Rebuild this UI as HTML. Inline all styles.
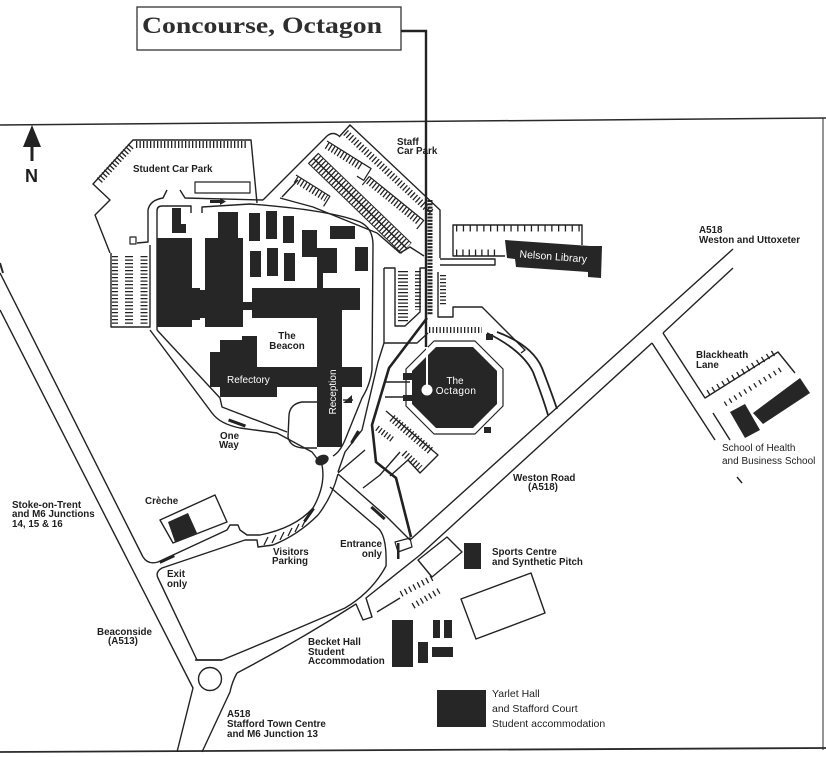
<!DOCTYPE html>
<html><head><meta charset="utf-8">
<style>
html,body{margin:0;padding:0;background:#fff;}
svg{display:block;}
text{font-family:"Liberation Sans",sans-serif;fill:#1e1e1e;}
.b{font-weight:bold;font-size:9.8px;}
.w{fill:#fff;font-size:10px;}
.t{stroke-dasharray:1.3 2.2;}
</style></head><body>
<svg width="826" height="757" viewBox="0 0 826 757" xmlns="http://www.w3.org/2000/svg">
<rect width="826" height="757" fill="#fff"/>

<!-- frame -->
<g fill="none" stroke="#2a2a2a">
 <path d="M0,125 L826,118" stroke-width="1.5"/>
 <path d="M823,118 L823,750" stroke-width="1"/>
 <path d="M0,752 L826,748" stroke-width="1.8"/>
 <path d="M0,263 L3,273" stroke-width="2"/>
</g>

<!-- title -->
<rect x="137" y="7" width="264" height="43" fill="#fff" stroke="#333" stroke-width="1.3"/>
<text x="142" y="33" style="font-family:'Liberation Serif',serif;font-weight:bold;font-size:23px;fill:#2e2e2e" textLength="240" lengthAdjust="spacingAndGlyphs">Concourse, Octagon</text>

<!-- north arrow -->
<polygon points="23,147 32,125 41,147" fill="#222"/>
<line x1="32" y1="146" x2="32" y2="161" stroke="#222" stroke-width="3"/>
<text x="25" y="182" style="font-weight:bold;font-size:18px">N</text>

<g fill="none" stroke="#222" stroke-width="1.4" stroke-linejoin="round">
 <!-- student car park -->
 <path d="M110,253 L95,215 L110,200 L93,184 L133,140 L251,140 L257,203"/>
 <line x1="136" y1="144.5" x2="248" y2="144.5" stroke-width="7" class="t"/>
 <line x1="131" y1="146" x2="98" y2="182" stroke-width="7" class="t"/>
 <rect x="195" y="182" width="55" height="11" stroke-width="1.2"/>
 <path d="M180,190 L185,198 L263,200"/>
 <path d="M167,190 L163,198 Q150,200 148,210 L148,242 L137,243"/>
 <rect x="130" y="237" width="6" height="7" stroke-width="1.2"/>
 <!-- west parking -->
 <path d="M111,253 V327 H150 V245"/>
 <line x1="115" y1="256" x2="115" y2="324" stroke-width="6" class="t"/>
 <line x1="129" y1="256" x2="129" y2="324" stroke-width="8" class="t"/>
 <line x1="144" y1="256" x2="144" y2="324" stroke-width="7" class="t"/>

 <!-- ring inner -->
 <path d="M157,330 L157,211 Q157,206 162,206 L191,206 L191,213"/>
 <path d="M202,213 L202,207 L250,204 Q330,210 360,222 Q373,228 373,245 L372,370 Q370,385 362,398 L345,440 Q340,452 333,456"/>
 <!-- ring outer top -->
 <path d="M280,198 L313,207 L377,233 L400,253 L410,247 L424,256"/>

 <!-- staff car park -->
 <path d="M263,200 L327,136 Q333,131 339,136"/>
 <path d="M339,137 L350,125 L440,210 L440,258"/>
 <g transform="translate(348,130) rotate(43)">
  <line x1="0" y1="3.5" x2="118" y2="3.5" stroke-width="7" class="t"/>
 </g>
 <g transform="translate(313,158) rotate(44)">
  <line x1="0" y1="0" x2="130" y2="0"/>
  <line x1="0" y1="0" x2="130" y2="0" stroke-width="13" class="t"/>
  <path d="M0,-7 L130,-7 M0,7 L130,7" stroke-width="1"/>
 </g>
 <g transform="translate(368,178) rotate(39)">
  <path d="M0,-2 H70 V9 M0,-2 V9" stroke-width="1.2"/>
  <line x1="2" y1="2" x2="68" y2="2" stroke-width="7" class="t"/>
 </g>
 <g transform="translate(327,141) rotate(32)">
  <path d="M0,0 H52 V14 H44" stroke-width="1.2"/>
  <line x1="2" y1="4" x2="44" y2="4" stroke-width="7" class="t"/>
 </g>
 <g transform="translate(296,175) rotate(32)">
  <path d="M0,0 H40 V12" stroke-width="1.2"/>
  <line x1="2" y1="4" x2="38" y2="4" stroke-width="7" class="t"/>
 </g>
 <path d="M282,197 L298,180"/>

 <!-- Nelson parking -->
 <path d="M505,256 L453,256 L453,225 L582,225 L582,245"/>
 <line x1="456" y1="228.5" x2="580" y2="228.5" stroke-width="6" class="t" style="stroke-dasharray:1.3 5.5"/>
 <line x1="456" y1="252.5" x2="500" y2="252.5" stroke-width="6" class="t" style="stroke-dasharray:1.3 5"/>
 <path d="M440,259 L495,259 L495,265 L440,265"/>

 <!-- H parking -->
 <path d="M384,268 H395 V326 H405 L420,312 V268 H425"/>
 <path d="M384,268 V343 H417 L428,333"/>
 <line x1="403" y1="271" x2="403" y2="323" stroke-width="10" class="t"/>
 <line x1="418" y1="271" x2="418" y2="310" stroke-width="6" class="t"/>
 <line x1="443" y1="275" x2="443" y2="305" stroke-width="6" class="t"/>
 <path d="M438,272 V317 H453 V307 H482 L488,313 L525,350 L521,353"/>
 <line x1="429" y1="330" x2="482" y2="330" stroke-width="6" class="t"/>
 <line x1="430" y1="200" x2="430" y2="315" stroke-width="5" style="stroke-dasharray:2 1.3"/>

 <!-- octagon right double road -->
 <path d="M487,333 Q522,350 533,372 Q543,398 548,415" stroke-width="1.8"/>
 <path d="M497,332 Q532,345 542,368 Q552,394 557,409" stroke-width="1.8"/>
 <!-- octagon outline -->
 <polygon points="434,341 475,341 503,369 503,406 475,434 434,434 406,406 406,369" stroke-width="1.2"/>
 <path d="M386,382 H410 M385,397 H410"/>

 <!-- thick footpath -->
 <path d="M427,318 L389,368 L372,425 L376,462 L396,478 L411,537" stroke-width="2.6"/>
 <path d="M384,343 L378,362 L362,430 L345,452 L338,472"/>

 <!-- SW octagon parking -->
 <line x1="392" y1="418" x2="432" y2="452" stroke-width="8" class="t"/>
 <line x1="377" y1="428" x2="393" y2="440" stroke-width="6" class="t"/>
 <line x1="404" y1="453" x2="420" y2="468" stroke-width="7" class="t"/>
 <path d="M386,411 L438,455 L420,473 L408,460 L390,476"/>
 <path d="M363,488 L380,475 L400,452"/>

 <!-- west diagonal roads -->
 <path d="M150,330 L212,413 Q220,424 240,428 L277,433 L312,452 L322,465"/>
 <path d="M157,330 L220,398 L222,407 L287,432"/>
 <path d="M317,402 L302,402 Q290,404 289,415 L288,437 Q290,447 303,448 L317,448"/>
 <path d="M343,400 H353"/>

 <!-- visitors road -->
 <path d="M322,465 Q326,485 313,508 Q295,528 260,535 L247,535 L240,530 L238,525 L230,525 L227,530 L158,562 Q148,565 143,557"/>
 <path d="M338,474 Q332,497 318,515 Q298,535 273,545 L258,547 L257,540 L245,540 L162,568 Q155,572 158,578 L197,660 L222,660"/>
 <path d="M268,537 L264,545 M276,535 L272,543 M284,532 L280,540 M292,528 L288,536 M299,524 L295,532 M306,519 L302,527" stroke-width="1.3"/>

 <!-- creche -->
 <polygon points="160,520 215,495 227,522 173,543"/>

 <!-- entrance roads -->
 <path d="M338,473 L365,450"/>
 <path d="M330,487 L379,529 Q387,538 386,566 Q372,592 345,608 Q290,632 222,660 L195,660"/>
 <path d="M338,474 L387,517 Q398,528 410,540"/>
 <path d="M395,542 L410,538 L412,547 L398,552 Z" stroke-width="1.2"/>

 <!-- Beaconside -->
 <path d="M0,310 L193,688 L177,752"/>
 <path d="M0,273 L143,557"/>
 <circle cx="210" cy="679" r="11.5"/>
 <!-- Weston road -->
 <path d="M410,540 L733,249"/>
 <path d="M237,673 Q300,640 356,604 L363,620 L372,617 L366,598 L420,555 L652,343"/>
 <path d="M663,333 L733,268"/>
 <path d="M237,673 Q232,682 230,692 L202,752"/>
 <!-- Blackheath -->
 <path d="M652,343 L715,440"/>
 <path d="M663,333 L705,398 L778,352 L795,373"/>
 <line x1="708" y1="393" x2="777" y2="351" stroke-width="6" class="t" style="stroke-dasharray:1.3 4.5"/>
 <line x1="725" y1="404" x2="783" y2="368" stroke-width="5" class="t" style="stroke-dasharray:1.3 4.5"/>
 <path d="M713,413 L730,440"/>
 <path d="M737,477 L742,483"/>

 <!-- sports -->
 <polygon points="418,560 447,537 462,552 432,577"/>
 <line x1="401" y1="594" x2="432" y2="578" stroke-width="6" class="t" style="stroke-dasharray:1.3 3.5"/>
 <line x1="413" y1="606" x2="442" y2="589" stroke-width="6" class="t" style="stroke-dasharray:1.3 3.5"/>
 <path d="M377,612 L400,598"/>
 <polygon points="461,599 531,573 545,613 476,639"/>
</g>

<!-- buildings -->
<g fill="#262626">
 <rect x="172" y="208" width="9" height="25"/>
 <rect x="172" y="224" width="14" height="9"/>
 <rect x="157" y="238" width="35" height="89"/>
 <rect x="192" y="288" width="8" height="32"/>
 <rect x="157" y="290" width="86" height="28"/>
 <rect x="205" y="238" width="38" height="89"/>
 <rect x="218" y="212" width="20" height="26"/>
 <rect x="249" y="213" width="11" height="28"/>
 <rect x="266" y="211" width="11" height="28"/>
 <rect x="283" y="216" width="11" height="27"/>
 <rect x="250" y="251" width="11" height="26"/>
 <rect x="267" y="248" width="11" height="28"/>
 <rect x="284" y="253" width="11" height="28"/>
 <rect x="302" y="230" width="15" height="27"/>
 <rect x="317" y="248" width="20" height="25"/>
 <rect x="317" y="255" width="6" height="35"/>
 <rect x="330" y="226" width="25" height="13"/>
 <rect x="355" y="247" width="13" height="24"/>
 <rect x="252" y="288" width="108" height="22"/>
 <rect x="252" y="310" width="65" height="8"/>
 <rect x="243" y="302" width="9" height="8"/>
 <rect x="317" y="310" width="25" height="137"/>
 <rect x="242" y="336" width="15" height="4"/>
 <rect x="220" y="340" width="37" height="27"/>
 <rect x="210" y="352" width="10" height="28"/>
 <rect x="210" y="367" width="152" height="20"/>
 <rect x="220" y="387" width="57" height="10"/>
 <polygon points="343,403 352,395 352,403"/>
 <ellipse cx="322" cy="460" rx="7" ry="5" transform="rotate(-25 322 460)"/>
 <!-- octagon -->
 <polygon points="436,347 473,347 497,371 497,404 473,428 436,428 412,404 412,371"/>
 <rect x="403" y="373" width="9" height="7"/>
 <rect x="403" y="395" width="9" height="6"/>
 <rect x="486" y="334" width="7" height="6"/>
 <rect x="484" y="427" width="7" height="6"/>
 <!-- Nelson library -->
 <polygon points="505,240 590,246 602,246 601,278 588,277 588,272 516,267 515,259 507,258"/>
 <!-- creche -->
 <polygon points="168,522 188,513 197,533 175,542"/>
 <!-- sports -->
 <rect x="464" y="543" width="17" height="26"/>
 <!-- becket -->
 <rect x="392" y="620" width="21" height="47"/>
 <rect x="418" y="642" width="10" height="21"/>
 <rect x="433" y="620" width="7" height="18"/>
 <rect x="444" y="620" width="8" height="18"/>
 <rect x="432" y="647" width="21" height="10"/>
 <!-- yarlet -->
 <rect x="437" y="690" width="49" height="37"/>
 <!-- school -->
 <polygon points="730,412 745,404 760,430 745,438"/>
 <polygon points="753,413 800,378 810,393 763,424"/>
</g>

<!-- one way arrows -->
<g fill="#222">
 <g transform="translate(237,423) rotate(20)"><rect x="-9" y="-1.5" width="18" height="3"/></g>
 <g transform="translate(355,437) rotate(-60)"><rect x="-7" y="-1.5" width="14" height="3"/></g>
 <g transform="translate(309,515) rotate(-55)"><rect x="-8" y="-1.5" width="16" height="3"/></g>
 <g transform="translate(378,513) rotate(42)"><rect x="-9" y="-1.5" width="18" height="3"/></g>
 <g transform="translate(167,559) rotate(-25)"><rect x="-8" y="-1.5" width="16" height="3"/></g>
 <rect x="210" y="200" width="10" height="3"/>
 <polygon points="220,198 226,201.5 220,205"/>
 <rect x="397" y="543" width="2.5" height="16"/>
</g>

<!-- connector from title to octagon -->
<path d="M401,31 H426 V347" fill="none" stroke="#222" stroke-width="2.4"/>
<line x1="427" y1="347" x2="427" y2="388" stroke="#fff" stroke-width="2"/>
<circle cx="427" cy="390" r="5.5" fill="#fff"/>

<!-- white labels -->
<text class="w" x="227" y="383" style="font-size:10px">Refectory</text>
<text class="w" transform="translate(336,392) rotate(-90)" text-anchor="middle" style="font-size:10px">Reception</text>
<text class="w" x="455" y="384" text-anchor="middle">The</text>
<text class="w" x="456" y="394" text-anchor="middle" style="letter-spacing:0.4px">Octagon</text>
<text class="w" transform="translate(553,260) rotate(4.5)" text-anchor="middle" style="font-size:10.5px">Nelson Library</text>

<!-- labels -->
<text class="b" x="133" y="172">Student Car Park</text>
<text class="b" x="397" y="145">Staff</text>
<text class="b" x="397" y="154">Car Park</text>
<text class="b" x="287" y="339" text-anchor="middle">The</text>
<text class="b" x="287" y="349" text-anchor="middle">Beacon</text>
<text class="b" x="220" y="439">One</text>
<text class="b" x="219" y="448">Way</text>
<text class="b" x="145" y="504">Crèche</text>
<text class="b" x="12" y="508">Stoke-on-Trent</text>
<text class="b" x="12" y="517">and M6 Junctions</text>
<text class="b" x="12" y="527">14, 15 &amp; 16</text>
<text class="b" x="273" y="555">Visitors</text>
<text class="b" x="272" y="564">Parking</text>
<text class="b" x="382" y="547" text-anchor="end">Entrance</text>
<text class="b" x="382" y="557" text-anchor="end">only</text>
<text class="b" x="167" y="577">Exit</text>
<text class="b" x="167" y="587">only</text>
<text class="b" x="97" y="635">Beaconside</text>
<text class="b" x="108" y="644">(A513)</text>
<text class="b" x="227" y="717">A518</text>
<text class="b" x="227" y="727">Stafford Town Centre</text>
<text class="b" x="227" y="737">and M6 Junction 13</text>
<text class="b" x="308" y="645">Becket Hall</text>
<text class="b" x="308" y="655">Student</text>
<text class="b" x="308" y="664">Accommodation</text>
<text class="b" x="492" y="555">Sports Centre</text>
<text class="b" x="492" y="565">and Synthetic Pitch</text>
<text class="b" x="513" y="481">Weston Road</text>
<text class="b" x="528" y="490">(A518)</text>
<text class="b" x="699" y="233">A518</text>
<text class="b" x="699" y="243">Weston and Uttoxeter</text>
<text class="b" x="696" y="358">Blackheath</text>
<text class="b" x="696" y="368">Lane</text>
<text x="722" y="451" style="font-size:10px">School of Health</text>
<text x="722" y="464" style="font-size:10px">and Business School</text>
<text x="492" y="697" style="font-size:10.5px">Yarlet Hall</text>
<text x="492" y="712" style="font-size:10.5px">and Stafford Court</text>
<text x="492" y="727" style="font-size:10.5px">Student accommodation</text>
</svg>
</body></html>
